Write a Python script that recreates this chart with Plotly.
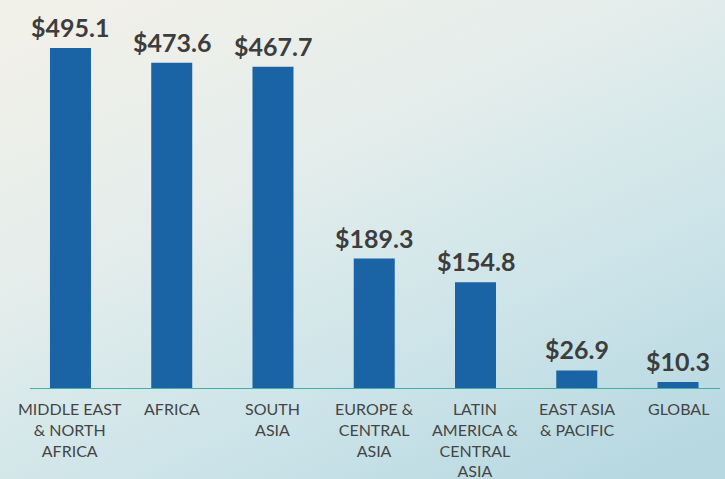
import base64
import plotly.graph_objects as go

categories = ["MIDDLE EAST<br>& NORTH<br>AFRICA", "AFRICA", "SOUTH<br>ASIA",
              "EUROPE &<br>CENTRAL<br>ASIA", "LATIN<br>AMERICA &<br>CENTRAL<br>ASIA",
              "EAST ASIA<br>& PACIFIC", "GLOBAL"]
values = [495.1, 473.6, 467.7, 189.3, 154.8, 26.9, 10.3]
value_labels = ["$%.1f" % v for v in values]

x = list(range(len(categories)))

svg = """<svg xmlns='http://www.w3.org/2000/svg' width='725' height='479' viewBox='0 0 725 479' preserveAspectRatio='none'>
<defs><linearGradient id='g' x1='0.15' y1='0' x2='0.85' y2='1'>
<stop offset='0' stop-color='#f1f0e9'/>
<stop offset='0.35' stop-color='#e4edeb'/>
<stop offset='0.7' stop-color='#cce4e9'/>
<stop offset='1' stop-color='#b8d8e1'/>
</linearGradient></defs>
<rect width='725' height='479' fill='url(#g)'/></svg>"""
bg = "data:image/svg+xml;base64," + base64.b64encode(svg.encode()).decode()

fig = go.Figure()
fig.add_trace(go.Bar(
    x=x, y=values, marker_color="#1a64a6", marker_line_width=0,
    hoverinfo="skip",
))

for i, (v, t) in enumerate(zip(values, value_labels)):
    fig.add_annotation(x=i, xref="x", y=v, yref="y", yanchor="bottom", yshift=4,
                       text=t, showarrow=False,
                       font=dict(family="Lato", size=25, color="#3d3d3d", weight="bold"))

for i, c in enumerate(categories):
    fig.add_annotation(x=i, xref="x", y=0, yref="paper", yanchor="top", yshift=-8,
                       text=c, showarrow=False, align="center",
                       font=dict(family="Lato", size=16, color="#454545"))

fig.add_shape(type="line", xref="x", yref="y", x0=-0.4, x1=6.415, y0=0, y1=0,
              line=dict(color="#3eb2a4", width=2))

fig.update_layout(
    width=725, height=479,
    margin=dict(l=0, r=0, t=0, b=90),
    paper_bgcolor="#e4ecea", plot_bgcolor="rgba(0,0,0,0)",
    bargap=0.595, showlegend=False,
    images=[dict(source=bg, xref="paper", yref="paper", x=0, y=1, sizex=1,
                 sizey=479 / 389, xanchor="left", yanchor="top",
                 sizing="stretch", layer="below")],
    xaxis=dict(range=[-0.696, 6.464], showticklabels=False, showgrid=False,
               zeroline=False, showline=False, fixedrange=True),
    yaxis=dict(range=[0, 564.6], visible=False, fixedrange=True),
)
fig.write_html("out.html", config={"displayModeBar": False},
               post_script="document.body.style.margin='0';document.body.style.padding='0';")
